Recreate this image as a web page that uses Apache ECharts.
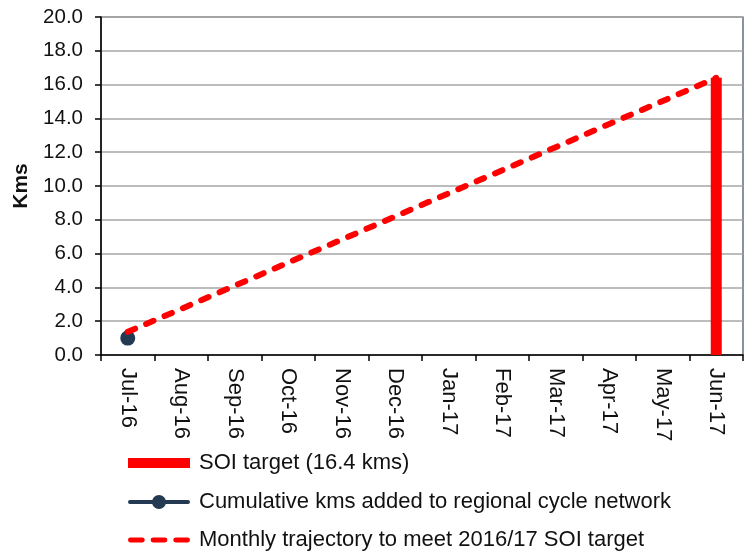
<!DOCTYPE html>
<html>
<head>
<meta charset="utf-8">
<script src="https://cdn.jsdelivr.net/npm/echarts@6/dist/echarts.min.js"></script>
<style>
  html, body { margin: 0; padding: 0; background: #fff; }
  #chart { width: 745px; height: 555px; }
</style>
</head>
<body>
<div id="chart"></div>
<script>
// Months of the 2016/17 reporting year
const months = ['Jul-16', 'Aug-16', 'Sep-16', 'Oct-16', 'Nov-16', 'Dec-16',
                'Jan-17', 'Feb-17', 'Mar-17', 'Apr-17', 'May-17', 'Jun-17'];
// SOI target shown as a single bar at year end
const soiTarget = [null, null, null, null, null, null, null, null, null, null, null, 16.4];
// Cumulative kilometres added so far
const cumulativeKms = [1.0, null, null, null, null, null, null, null, null, null, null, null];
// Monthly trajectory towards the target
const trajectory = [1.37, 2.73, 4.10, 5.47, 6.83, 8.20, 9.57, 10.93, 12.30, 13.67, 15.03, 16.40];
// Y axis tick labels
const yTicks = ['0.0', '2.0', '4.0', '6.0', '8.0', '10.0', '12.0', '14.0', '16.0', '18.0', '20.0'];

const FONT = '"Liberation Sans", Arial, sans-serif';
const TEXT = '#111';
const RED = '#ff0000';
const NAVY = '#243a52';
const NAMES = ['SOI target (16.4 kms)',
               'Cumulative kms added to regional cycle network',
               'Monthly trajectory to meet 2016/17 SOI target'];

// Legend key shapes
const ICON_BAR = 'path://M0,0 H62 V10 H0 Z';
const ICON_DOT_LINE = 'path://M2,5 H60 A2,2 0 0,1 60,9 H2 A2,2 0 0,1 2,5 Z ' +
                      'M24,7 A7,7 0 1,1 38,7 A7,7 0 1,1 24,7 Z';
const ICON_DASH = 'path://M2,0 H14 A2.5,2.5 0 0,1 14,5 H2 A2.5,2.5 0 0,1 2,0 Z ' +
                  'M25,0 H37 A2.5,2.5 0 0,1 37,5 H25 A2.5,2.5 0 0,1 25,0 Z ' +
                  'M48,0 H60 A2.5,2.5 0 0,1 60,5 H48 A2.5,2.5 0 0,1 48,0 Z';

const chart = echarts.init(document.getElementById('chart'), null, { renderer: 'canvas' });

function legendItem(name, icon, color, top, itemWidth, itemHeight) {
  return {
    data: [{ name: name, icon: icon, itemStyle: { color: color, borderWidth: 0 } }],
    orient: 'vertical',
    left: 128,
    top: top,
    padding: 0,
    itemWidth: itemWidth,
    itemHeight: itemHeight,
    itemGap: 0,
    selectedMode: false,
    textStyle: { fontFamily: FONT, fontSize: 22, color: TEXT, padding: [0, 0, 0, 4 + 62 - itemWidth] }
  };
}

chart.setOption({
  animation: false,
  backgroundColor: '#fff',
  grid: {
    left: 101, right: 2, top: 17, bottom: 200,
    outerBoundsMode: 'none',
    containLabel: false,
    show: true, borderColor: '#3c4a5c', borderWidth: 1.2, backgroundColor: 'transparent'
  },
  legend: [
    legendItem(NAMES[0], ICON_BAR, RED, 452, 62, 10),
    legendItem(NAMES[1], ICON_DOT_LINE, NAVY, 491, 62, 14),
    legendItem(NAMES[2], ICON_DASH, RED, 529, 62, 5)
  ],
  xAxis: {
    type: 'category',
    data: months,
    boundaryGap: true,
    axisLine: { lineStyle: { color: '#000', width: 1.5 } },
    axisTick: { show: true, alignWithLabel: false, length: 6, lineStyle: { color: '#000', width: 1.5 } },
    axisLabel: {
      rotate: -90, margin: 13, interval: 0,
      fontFamily: FONT, fontSize: 22, color: TEXT
    },
    splitLine: { show: false }
  },
  yAxis: {
    type: 'value',
    min: 0, max: 20, interval: 2,
    name: 'Kms',
    nameLocation: 'middle',
    nameGap: 69,
    nameRotate: 90,
    nameTextStyle: { fontFamily: FONT, fontSize: 21, fontWeight: 'bold', color: TEXT },
    axisLine: { show: true, lineStyle: { color: '#000', width: 1.5 } },
    axisTick: { show: true, length: 6, lineStyle: { color: '#000', width: 1.5 } },
    axisLabel: {
      margin: 18,
      fontFamily: FONT, fontSize: 20.5, color: TEXT,
      formatter: (v) => yTicks[Math.round(v / 2)]
    },
    splitLine: { show: true, lineStyle: { color: '#a6a6a6', width: 1.5 } }
  },
  series: [
    {
      name: NAMES[0],
      type: 'bar',
      data: soiTarget,
      barWidth: 11,
      itemStyle: { color: RED },
      z: 2
    },
    {
      name: NAMES[1],
      type: 'line',
      data: cumulativeKms,
      symbol: 'circle',
      symbolSize: 15,
      showAllSymbol: true,
      lineStyle: { color: NAVY, width: 4 },
      itemStyle: { color: NAVY },
      z: 3
    },
    {
      name: NAMES[2],
      type: 'line',
      data: trajectory,
      symbol: 'none',
      lineStyle: { color: RED, width: 6, type: [8, 12], cap: 'round' },
      itemStyle: { color: RED },
      z: 4
    }
  ]
});
</script>
</body>
</html>
